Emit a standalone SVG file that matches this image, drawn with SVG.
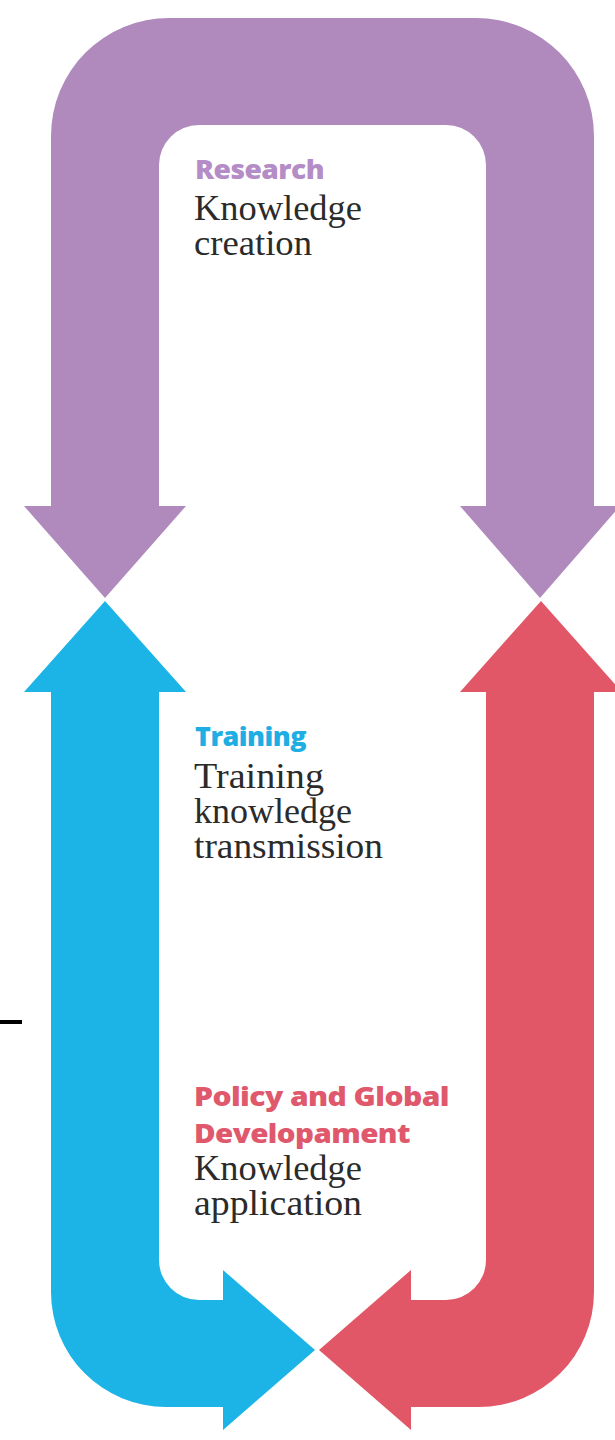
<svg xmlns="http://www.w3.org/2000/svg" width="615" height="1440" viewBox="0 0 615 1440">
<style>
.lbl{font-family:"Open Sans","Liberation Sans",Arial,sans-serif;font-weight:800;font-size:26px;letter-spacing:-0.5px}
.body{font-family:"Liberation Serif","Times New Roman",serif;font-size:35px;fill:#2b2b2b}
</style>
<rect x="0" y="0" width="615" height="1440" fill="#ffffff"/>
<g id="connectors">
<path id="research-arrow" fill="#b08abd" d="M 24 506 L 105 598 L 186 506 L 159 506 V 165 A 40 40 0 0 1 199 125 H 446 A 40 40 0 0 1 486 165 V 506 L 460 506 L 540 598 L 620 506 L 594 506 V 136 A 118 118 0 0 0 476 18 H 169 A 118 118 0 0 0 51 136 V 506 Z"/>
<path id="training-arrow" fill="#1cb4e6" d="M 105 601 L 186 692 L 159 692 V 1260 A 40 40 0 0 0 199 1300 H 223 V 1270 L 315 1350 L 223 1430 V 1407 H 166 A 115 115 0 0 1 51 1292 V 692 L 24 692 Z"/>
<path id="policy-arrow" fill="#e25767" d="M 541 601 L 622 692 L 594 692 V 1292 A 115 115 0 0 1 479 1407 H 411 V 1430 L 319 1350 L 411 1270 V 1300 H 446 A 40 40 0 0 0 486 1260 V 692 L 460 692 Z"/>
</g>
<g id="research">
<text class="lbl" x="195" y="179" fill="#b48cc6" textLength="129" lengthAdjust="spacingAndGlyphs">Research</text>
<text class="body" x="194" y="220" textLength="168" lengthAdjust="spacingAndGlyphs">Knowledge</text>
<text class="body" x="194" y="255" textLength="118" lengthAdjust="spacingAndGlyphs">creation</text>
</g>
<g id="training">
<text class="lbl" x="195" y="746" fill="#1eaee4" textLength="111" lengthAdjust="spacingAndGlyphs">Training</text>
<text class="body" x="194" y="788" textLength="130" lengthAdjust="spacingAndGlyphs">Training</text>
<text class="body" x="194" y="823" textLength="158" lengthAdjust="spacingAndGlyphs">knowledge</text>
<text class="body" x="194" y="858" textLength="189" lengthAdjust="spacingAndGlyphs">transmission</text>
</g>
<g id="policy">
<text class="lbl" x="194" y="1106" fill="#e0586c" textLength="255" lengthAdjust="spacingAndGlyphs">Policy and Global</text>
<text class="lbl" x="194" y="1143" fill="#e0586c" textLength="216" lengthAdjust="spacingAndGlyphs">Developament</text>
<text class="body" x="194" y="1180" textLength="168" lengthAdjust="spacingAndGlyphs">Knowledge</text>
<text class="body" x="194" y="1215" textLength="168" lengthAdjust="spacingAndGlyphs">application</text>
</g>
<rect x="0" y="1020" width="22" height="4" fill="#000000"/>
</svg>
